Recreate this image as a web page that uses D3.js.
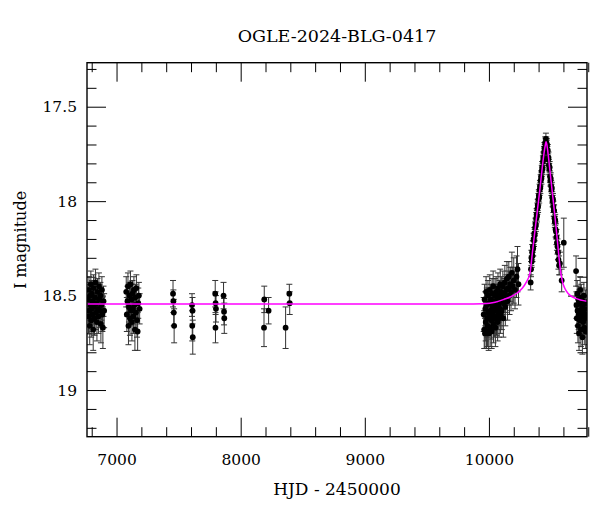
<!DOCTYPE html>
<html>
<head>
<meta charset="utf-8">
<script src="https://cdn.jsdelivr.net/npm/d3@7"></script>
<style>
html,body{margin:0;padding:0;background:#fff;}
svg{display:block;}
text{font-family:"DejaVu Serif",serif;fill:#000;}
</style>
</head>
<body>
<svg id="chart" width="600" height="512"></svg>
<script>
// ---- data ----
const title = "OGLE-2024-BLG-0417";
const xLabel = "HJD - 2450000";
const yLabel = "I magnitude";
const xMajorTicks = [7000, 8000, 9000, 10000];
const xMinorTicks = [6800,7200,7400,7600,7800,8200,8400,8600,8800,9200,9400,9600,9800,10200,10400,10600,10800];
const yMajorTicks = [17.5, 18, 18.5, 19];
const yMinorTicks = [17.3,17.4,17.6,17.7,17.8,17.9,18.1,18.2,18.3,18.4,18.6,18.7,18.8,18.9,19.1,19.2];
const xDomain = [6762, 10790];
const yDomain = [17.267, 19.247];

// photometry: HJD-2450000, I mag, error
const hjd = [
 6770,6774,6778,6781,6784,6787,6790,6793,6796,6799,6802,6805,6808,6812,6815,6818,6822,6826,6830,6834,6838,6842,6846,6850,6854,6858,6862,6866,6870,6874,6878,6882,6886,6890,6895,6900,
 7078,7083,7088,7092,7096,7100,7104,7108,7112,7116,7120,7124,7128,7132,7136,7140,7144,7148,7152,7156,7160,7165,7170,7175,7180,7186,
 7455,7458,7461,7464,7608,7612,7610,7614,7795,7798,7801,7797,7862,7866,7868,8190,8188,8225,8362,8392,8395,
 9958,9962,9965,9968,9971,9974,9977,9980,9983,9986,9989,9992,9995,9998,10001,10004,10007,10010,10013,10016,10019,10022,10025,10028,10031,10034,10037,10040,10043,10046,10049,10052,10055,10058,10061,10064,10067,10070,10073,10076,10079,10082,10085,10088,10091,10094,10097,10100,10104,10108,10112,10116,10120,10124,10128,10132,10136,10140,10145,10150,10155,10160,10166,10172,10178,10185,10192,10200,10210,10222,10230,10238,
 10336,10339,10342,10345,10348,10351,10354,10357,10360,10363,10366,10369,10372,10375,10378,10381,10384,10387,10390,10393,10396,10399,10402,10405,10408,10411,10414,10417,10420,10423,10426,10429,10432,10435,10438,10441,10444,10447,10450,10453,10456,10459,10462,10465,
 10468,10471,10474,10477,10480,10483,10486,10489,10492,10495,10498,10501,10504,10507,10510,10513,10516,10519,10522,10525,10528,10531,10534,10537,10540,10544,10548,10552,10556,10560,10565,10572,10586,10603,
 10702,10705,10708,10711,10714,10717,10720,10723,10726,10729,10732,10735,10738,10741,10744,10747,10750,10753,10756,10759,10762,10765,10768,10771,10774,10777,10780,10784
];
const mag = [
 18.52,18.61,18.47,18.58,18.66,18.50,18.55,18.44,18.63,18.57,18.49,18.60,18.53,18.68,18.46,18.56,18.62,18.51,18.43,18.59,18.54,18.64,18.48,18.57,18.61,18.45,18.52,18.58,18.50,18.65,18.55,18.47,18.60,18.67,18.53,18.58,
 18.48,18.60,18.53,18.45,18.66,18.56,18.50,18.62,18.44,18.58,18.52,18.64,18.49,18.57,18.61,18.47,18.55,18.68,18.51,18.59,18.46,18.63,18.69,18.54,18.50,18.57,
 18.49,18.53,18.59,18.66,18.55,18.58,18.66,18.72,18.49,18.54,18.57,18.67,18.50,18.585,18.62,18.52,18.67,18.58,18.67,18.49,18.54,
 18.60,18.68,18.52,18.70,18.57,18.64,18.48,18.69,18.55,18.62,18.66,18.50,18.59,18.70,18.54,18.61,18.47,18.67,18.58,18.52,18.63,18.69,18.49,18.56,18.60,18.45,18.65,18.53,18.58,18.62,18.50,18.67,18.55,18.48,18.61,18.57,18.52,18.64,18.46,18.59,18.55,18.62,18.50,18.57,18.44,18.60,18.53,18.48,18.58,18.51,18.45,18.62,18.54,18.49,18.43,18.56,18.50,18.47,18.41,18.53,18.46,18.40,18.50,18.44,18.48,18.38,18.45,18.42,18.47,18.40,18.36,18.44,
 18.43,18.36,18.30,18.32,18.27,18.29,18.24,18.25,18.20,18.21,18.17,18.18,18.14,18.12,18.13,18.09,18.07,18.08,18.04,18.02,18.03,17.99,17.97,17.98,17.94,17.92,17.93,17.89,17.87,17.88,17.84,17.82,17.83,17.79,17.77,17.78,17.74,17.72,17.73,17.69,17.70,17.67,17.69,17.71,
 17.70,17.74,17.73,17.78,17.77,17.81,17.83,17.82,17.87,17.89,17.88,17.92,17.94,17.93,17.98,18.00,17.99,18.03,18.05,18.05,18.09,18.11,18.10,18.15,18.16,18.19,18.22,18.24,18.27,18.31,18.34,18.33,18.42,18.22,
 18.37,18.55,18.62,18.49,18.58,18.66,18.52,18.60,18.70,18.54,18.63,18.47,18.58,18.68,18.51,18.61,18.56,18.72,18.53,18.64,18.59,18.50,18.67,18.57,18.62,18.54,18.69,18.60
];
const magErr = [
 0.08,0.09,0.07,0.08,0.10,0.07,0.08,0.07,0.09,0.08,0.07,0.09,0.08,0.11,0.07,0.08,0.09,0.07,0.07,0.09,0.08,0.10,0.07,0.08,0.09,0.07,0.08,0.09,0.07,0.10,0.08,0.07,0.09,0.11,0.08,0.09,
 0.08,0.09,0.08,0.07,0.10,0.08,0.07,0.09,0.07,0.08,0.08,0.10,0.07,0.08,0.09,0.07,0.08,0.11,0.07,0.09,0.07,0.09,0.10,0.08,0.07,0.08,
 0.07,0.06,0.07,0.09,0.06,0.07,0.08,0.09,0.07,0.06,0.07,0.08,0.07,0.07,0.08,0.07,0.10,0.07,0.11,0.05,0.06,
 0.09,0.10,0.08,0.08,0.09,0.10,0.08,0.09,0.09,0.10,0.11,0.08,0.09,0.09,0.08,0.10,0.08,0.10,0.09,0.08,0.10,0.09,0.08,0.09,0.10,0.08,0.10,0.09,0.08,0.10,0.09,0.10,0.09,0.08,0.10,0.09,0.08,0.10,0.08,0.09,0.09,0.10,0.08,0.09,0.08,0.10,0.09,0.08,0.10,0.09,0.08,0.10,0.09,0.08,0.09,0.10,0.09,0.08,0.09,0.10,0.09,0.08,0.10,0.09,0.10,0.11,0.10,0.12,0.10,0.11,0.12,0.11,
 0.04,0.04,0.04,0.03,0.04,0.03,0.03,0.04,0.03,0.03,0.03,0.03,0.03,0.03,0.03,0.03,0.03,0.03,0.03,0.03,0.03,0.03,0.03,0.03,0.03,0.03,0.03,0.03,0.03,0.03,0.03,0.03,0.03,0.03,0.03,0.03,0.03,0.03,0.03,0.03,0.03,0.03,0.03,0.03,
 0.03,0.03,0.03,0.03,0.03,0.03,0.03,0.03,0.03,0.03,0.03,0.03,0.03,0.03,0.03,0.03,0.03,0.03,0.03,0.03,0.03,0.03,0.03,0.04,0.04,0.04,0.04,0.04,0.04,0.05,0.05,0.06,0.06,0.13,
 0.08,0.07,0.08,0.07,0.08,0.09,0.07,0.08,0.09,0.07,0.08,0.07,0.08,0.09,0.07,0.08,0.07,0.09,0.07,0.08,0.08,0.07,0.09,0.07,0.08,0.07,0.09,0.08
];

// model light curve
const modelT =   [6762, 9800, 9950, 10050, 10120, 10180, 10230, 10270, 10300, 10331, 10350, 10370, 10390, 10410, 10430, 10445, 10455, 10460, 10465, 10475, 10490, 10510, 10530, 10550, 10565, 10575, 10590, 10610, 10640, 10700, 10790];
const modelMag = [18.545,18.545,18.543,18.535,18.52, 18.505,18.485,18.46, 18.43, 18.38, 18.273,18.16, 18.05, 17.94, 17.82, 17.74, 17.70, 17.685,17.695,17.74, 17.83, 17.95, 18.07, 18.20, 18.30, 18.36, 18.42, 18.46, 18.49, 18.515,18.53];

// ---- drawing ----
const L = 87, R = 587, T = 62.7, B = 436.7;
const svg = d3.select("#chart");
const x = d3.scaleLinear().domain(xDomain).range([L, R]);
const y = d3.scaleLinear().domain(yDomain).range([T, B]);
const MAJ = 19, MIN = 9.5;

svg.append("defs").append("clipPath").attr("id","clip")
  .append("rect").attr("x",L).attr("y",T).attr("width",R-L).attr("height",B-T);

function styleAxis(g){
  g.select(".domain").remove();
  g.selectAll(".tick line").attr("stroke","#000").attr("stroke-width",1);
  g.selectAll("text").style("font-family","'DejaVu Serif',serif").style("font-size","15.5px").attr("fill","#000");
}

// bottom
svg.append("g").attr("transform",`translate(0,${B})`)
  .call(d3.axisBottom(x).tickValues(xMajorTicks).tickSize(-MAJ).tickPadding(17).tickFormat(d3.format("d")))
  .call(styleAxis);
svg.append("g").attr("transform",`translate(0,${B})`)
  .call(d3.axisBottom(x).tickValues(xMinorTicks).tickSize(-MIN).tickFormat(""))
  .call(styleAxis);
// top
svg.append("g").attr("transform",`translate(0,${T})`)
  .call(d3.axisTop(x).tickValues(xMajorTicks).tickSize(-MAJ).tickFormat(""))
  .call(styleAxis);
svg.append("g").attr("transform",`translate(0,${T})`)
  .call(d3.axisTop(x).tickValues(xMinorTicks).tickSize(-MIN).tickFormat(""))
  .call(styleAxis);
// left
svg.append("g").attr("transform",`translate(${L},0)`)
  .call(d3.axisLeft(y).tickValues(yMajorTicks).tickSize(-MAJ).tickPadding(10).tickFormat(d => String(d)))
  .call(styleAxis);
svg.append("g").attr("transform",`translate(${L},0)`)
  .call(d3.axisLeft(y).tickValues(yMinorTicks).tickSize(-MIN).tickFormat(""))
  .call(styleAxis);
// right
svg.append("g").attr("transform",`translate(${R},0)`)
  .call(d3.axisRight(y).tickValues(yMajorTicks).tickSize(-MAJ).tickFormat(""))
  .call(styleAxis);
svg.append("g").attr("transform",`translate(${R},0)`)
  .call(d3.axisRight(y).tickValues(yMinorTicks).tickSize(-MIN).tickFormat(""))
  .call(styleAxis);

// data
const pts = hjd.map((t,i) => ({t, m: mag[i], e: magErr[i]}));
const plot = svg.append("g").attr("clip-path","url(#clip)");
const eb = plot.append("g").attr("stroke","#333").attr("stroke-width",1).attr("fill","none");
eb.selectAll("line.v").data(pts).join("line").attr("class","v")
  .attr("x1",d=>x(d.t)).attr("x2",d=>x(d.t)).attr("y1",d=>y(d.m-d.e)).attr("y2",d=>y(d.m+d.e));
eb.selectAll("line.ct").data(pts).join("line").attr("class","ct")
  .attr("x1",d=>x(d.t)-3).attr("x2",d=>x(d.t)+3).attr("y1",d=>y(d.m-d.e)).attr("y2",d=>y(d.m-d.e));
eb.selectAll("line.cb").data(pts).join("line").attr("class","cb")
  .attr("x1",d=>x(d.t)-3).attr("x2",d=>x(d.t)+3).attr("y1",d=>y(d.m+d.e)).attr("y2",d=>y(d.m+d.e));
plot.append("g").selectAll("circle").data(pts).join("circle")
  .attr("cx",d=>x(d.t)).attr("cy",d=>y(d.m)).attr("r",2.9).attr("fill","#000");

// model
const model = modelT.map((t,i)=>({t, m: modelMag[i]}));
plot.append("path").datum(model)
  .attr("d", d3.line().x(d=>x(d.t)).y(d=>y(d.m)).curve(d3.curveMonotoneX))
  .attr("fill","none").attr("stroke","#ff00ff").attr("stroke-width",1.5);

// frame
svg.append("rect").attr("x",L).attr("y",T).attr("width",R-L).attr("height",B-T)
  .attr("fill","none").attr("stroke","#000").attr("stroke-width",1.4);

// titles
svg.append("text").attr("x",(L+R)/2).attr("y",42).attr("text-anchor","middle")
  .style("font-size","17.5px").text(title);
svg.append("text").attr("x",(L+R)/2).attr("y",495).attr("text-anchor","middle")
  .style("font-size","17px").text(xLabel);
svg.append("text").attr("transform",`translate(26,240) rotate(-90)`).attr("text-anchor","middle")
  .style("font-size","16px").text(yLabel);
</script>
</body>
</html>
